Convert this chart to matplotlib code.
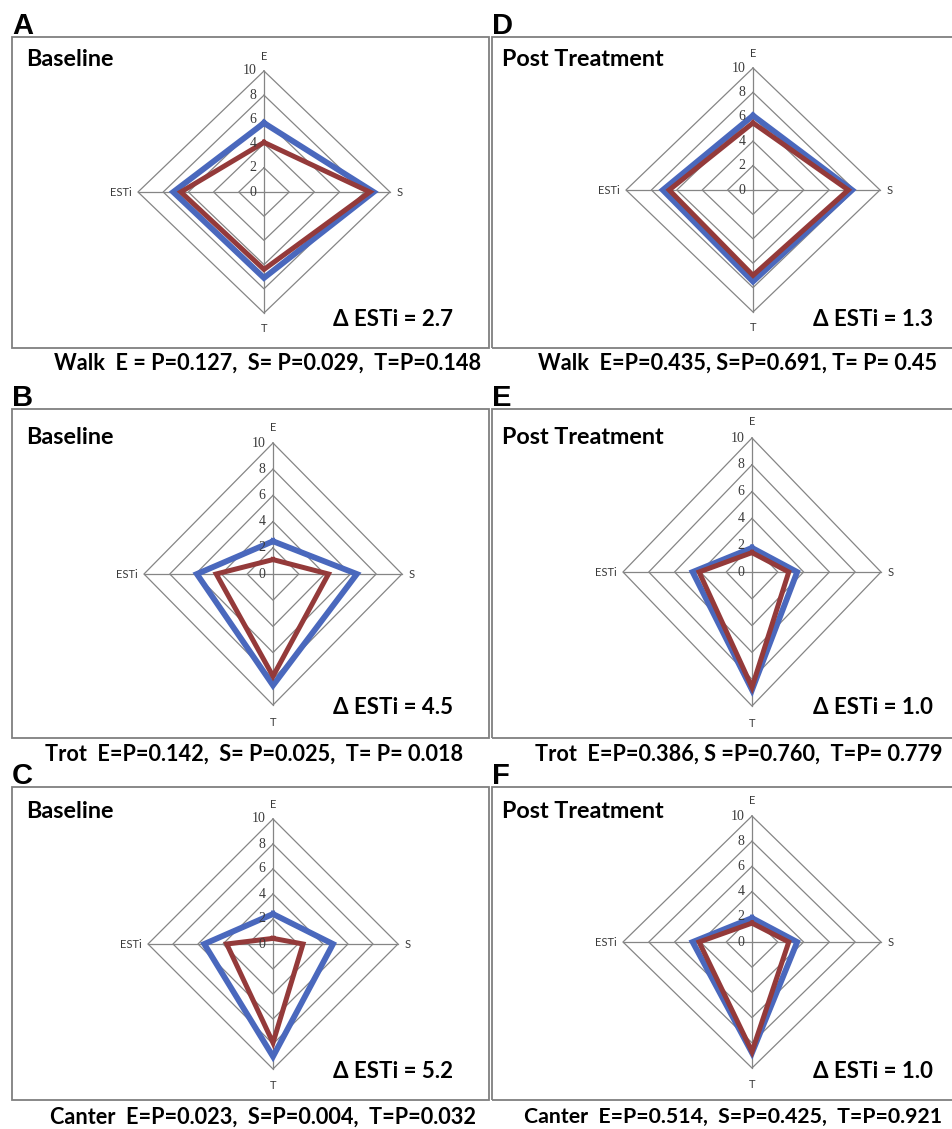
import matplotlib
matplotlib.use("Agg")
import matplotlib.pyplot as plt
from matplotlib.patches import Rectangle

W, H = 953, 1129

# spokes, clockwise from top
axis_names = ["E", "S", "T", "ESTi"]
ring_values = [2, 4, 6, 8, 10]
tick_values = [0, 2, 4, 6, 8, 10]

# values per spoke [E, S, T, ESTi]
walk_base_blue = [5.7, 8.7, 7.1, 7.2]
walk_base_red = [4.1, 8.4, 6.4, 6.6]
trot_base_blue = [2.5, 6.5, 8.5, 5.9]
trot_base_red = [1.1, 4.3, 7.8, 4.4]
canter_base_blue = [2.4, 4.8, 9.0, 5.5]
canter_base_red = [0.45, 2.4, 7.9, 3.7]
walk_post_blue = [6.1, 7.8, 7.5, 7.1]
walk_post_red = [5.5, 7.5, 7.0, 6.6]
trot_post_blue = [1.8, 3.5, 8.8, 4.6]
trot_post_red = [1.45, 2.85, 8.6, 4.1]
canter_post_blue = [1.9, 3.5, 8.8, 4.6]
canter_post_red = [1.5, 2.85, 8.7, 4.1]

panel_letters = ["A", "B", "C", "D", "E", "F"]
panel_titles = ["Baseline", "Baseline", "Baseline",
                "Post Treatment", "Post Treatment", "Post Treatment"]
delta_labels = ["\u0394 ESTi = 2.7", "\u0394 ESTi = 4.5", "\u0394 ESTi = 5.2",
                "\u0394 ESTi = 1.3", "\u0394 ESTi = 1.0", "\u0394 ESTi = 1.0"]
captions = [
    "Walk  E = P=0.127,  S= P=0.029,  T=P=0.148",
    "Trot  E=P=0.142,  S= P=0.025,  T= P= 0.018",
    "Canter  E=P=0.023,  S=P=0.004,  T=P=0.032",
    "Walk  E=P=0.435, S=P=0.691, T= P= 0.45",
    "Trot  E=P=0.386, S =P=0.760,  T=P= 0.779",
    "Canter  E=P=0.514,  S=P=0.425,  T=P=0.921",
]
blue_series = [walk_base_blue, trot_base_blue, canter_base_blue,
               walk_post_blue, trot_post_blue, canter_post_blue]
red_series = [walk_base_red, trot_base_red, canter_base_red,
              walk_post_red, trot_post_red, canter_post_red]

BLUE = "#4a68bd"
RED = "#943a3a"
GRID = "#858585"
BORDER = "#7f7f7f"
TXT = "#3a3a3a"

dirs = [(0, 1), (1, 0), (0, -1), (-1, 0)]

# layout in pixels: box (x0, y0, x1, y1), radar center and half sizes
col_x = [(12, 489), (492, 960)]
row_y = [(37, 348), (409, 738), (787, 1100)]
centers = [(264, 192, 126, 121), (273, 574, 129, 131), (273, 944, 125, 125),
           (753, 190, 127, 122), (752, 572, 129, 134), (752, 942, 129, 126)]
caption_y = [363, 754, 1117]
caption_x = [54, 45, 50, 538, 535, 524]
caption_size = [15.6, 15.6, 15.6, 15.6, 15.6, 15.3]
title_dy = [23, 28, 25]
delta_y = [320, 708, 1071]


def fx(x):
    return x / W


def fy(y):
    return 1 - y / H


def spoke_xy(vals):
    xs = [v * d[0] for v, d in zip(vals, dirs)]
    ys = [v * d[1] for v, d in zip(vals, dirs)]
    return xs + xs[:1], ys + ys[:1]


fig = plt.figure(figsize=(W / 100, H / 100), dpi=100)
fig.patch.set_facecolor("white")

for i in range(6):
    col, row = divmod(i, 3)
    x0, x1 = col_x[col]
    y0, y1 = row_y[row]
    fig.patches.append(Rectangle((fx(x0), fy(y1)), fx(x1 - x0), (y1 - y0) / H,
                                 transform=fig.transFigure, fill=False,
                                 edgecolor=BORDER, lw=1.3))
    fig.text(fx(x0), fy(y0 - 3), panel_letters[i], fontsize=21, fontweight="bold",
             family="Liberation Sans", ha="left", va="baseline")
    fig.text(fx(x0 + 14 if col == 0 else x0 + 10), fy(y0 + title_dy[row]), panel_titles[i],
             fontsize=16.8, fontweight="bold", family="Lato", ha="left", va="center")
    fig.text(fx(x0 + 441), fy(delta_y[row]), delta_labels[i], fontsize=16,
             fontweight="bold", family="Lato", ha="right", va="center")
    fig.text(fx(caption_x[i]), fy(caption_y[row]), captions[i], fontsize=caption_size[i],
             fontweight="bold", family="Lato", ha="left", va="center")

    cx, cy, rx, ry = centers[i]
    ax = fig.add_axes([fx(cx - 1.4 * rx), fy(cy + 1.4 * ry), 2.8 * rx / W, 2.8 * ry / H])
    ax.set_xlim(-14, 14)
    ax.set_ylim(-14, 14)
    ax.axis("off")

    for r in ring_values:
        gx, gy = spoke_xy([r] * 4)
        ax.plot(gx, gy, color=GRID, lw=0.9)
    for d in dirs:
        ax.plot([0, 10 * d[0]], [0, 10 * d[1]], color=GRID, lw=0.9)
    for t in tick_values:
        ax.text(-0.6, t, str(t), fontsize=10, family="Liberation Serif", color=TXT,
                ha="right", va="center")
    ax.text(0, 11.2, axis_names[0], fontsize=8, color=TXT, ha="center", va="center",
            family="Lato")
    ax.text(10.5, 0, axis_names[1], fontsize=8, color=TXT, ha="left", va="center",
            family="Lato")
    ax.text(0, -11.3, axis_names[2], fontsize=8, color=TXT, ha="center", va="center",
            family="Lato")
    ax.text(-10.5, 0, axis_names[3], fontsize=8, color=TXT, ha="right", va="center",
            family="Lato")

    bx, by = spoke_xy(blue_series[i])
    ax.plot(bx, by, color=BLUE, lw=4.2, solid_joinstyle="miter")
    rx_, ry_ = spoke_xy(red_series[i])
    ax.plot(rx_, ry_, color=RED, lw=3.6, solid_joinstyle="miter")

fig.savefig("out.png", dpi=100)
